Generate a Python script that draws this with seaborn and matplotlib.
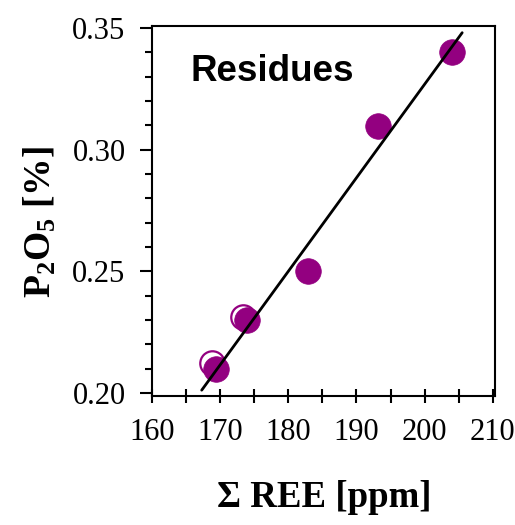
import matplotlib
matplotlib.use("Agg")
import matplotlib.pyplot as plt
import seaborn as sns
import pandas as pd
from matplotlib.ticker import MultipleLocator, FormatStrFormatter

sns.set_style("ticks")
plt.rcParams['font.family'] = ['Liberation Serif', 'DejaVu Serif']
plt.rcParams['mathtext.fontset'] = 'custom'
plt.rcParams['mathtext.rm'] = 'Liberation Serif'
plt.rcParams['mathtext.bf'] = 'Liberation Serif:bold'
plt.rcParams['mathtext.it'] = 'Liberation Serif:italic'
plt.rcParams['text.color'] = 'black'

# data
ree_filled = [169.4, 174.0, 182.9, 193.2, 204.0]
p2o5_filled = [0.2098, 0.2299, 0.2502, 0.3095, 0.3400]
ree_open = [168.8, 173.3]
p2o5_open = [0.2122, 0.2312]
fit_x = [167.3, 205.5]
fit_y = [0.2012, 0.3480]

xticks = [160, 170, 180, 190, 200, 210]
yticks = [0.20, 0.25, 0.30, 0.35]

purple = '#930080'

fig = plt.figure(figsize=(5.15, 5.25), dpi=100)
ax = fig.add_axes([0.295, 0.2457, 0.666, 0.705])

sns.scatterplot(x=ree_open, y=p2o5_open, ax=ax, s=310, marker='o',
                facecolor='white', edgecolor=purple, linewidth=1.6, zorder=2)
sns.scatterplot(x=ree_filled, y=p2o5_filled, ax=ax, s=340, marker='o',
                color=purple, edgecolor=purple, linewidth=0.5, zorder=3)
sns.lineplot(x=fit_x, y=fit_y, ax=ax, color='black', linewidth=2.0, zorder=4)

ax.set_xlim(160, 210.3)
ax.set_ylim(0.1988, 0.3508)
ax.set_xticks(xticks)
ax.set_yticks(yticks)
ax.xaxis.set_minor_locator(MultipleLocator(5))
ax.yaxis.set_minor_locator(MultipleLocator(0.01))
ax.yaxis.set_major_formatter(FormatStrFormatter('%.2f'))
ax.tick_params(axis='x', which='both', direction='inout', length=10, width=1.5,
               labelsize=22, colors='black', labelcolor='black', pad=11)
ax.tick_params(axis='y', which='major', direction='out', length=9, width=1.5,
               labelsize=22, colors='black', labelcolor='black', pad=10)
ax.tick_params(axis='y', which='minor', direction='out', length=5, width=1.5,
               colors='black')

for sp in ax.spines.values():
    sp.set_visible(True)
    sp.set_linewidth(1.5)
    sp.set_color('black')

ax.text(0.35, 0.878, 'Residues', transform=ax.transAxes, ha='center', va='center',
        fontsize=26.5, fontweight='bold', color='black',
        family=['Liberation Sans', 'DejaVu Sans'])

fig.text(0.63, 0.053, '\u03a3 REE [ppm]', ha='center', va='center',
         fontsize=26.5, fontweight='bold', color='black')
fig.text(0.078, 0.577, r'$\mathbf{P_2O_5}$ [%]', ha='center', va='center',
         rotation=90, fontsize=27, fontweight='bold', color='black')

fig.savefig('out.png', dpi=100)
